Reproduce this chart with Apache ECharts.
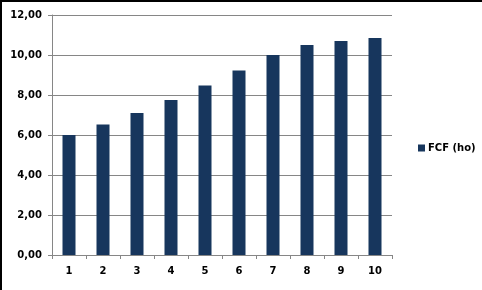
<!DOCTYPE html>
<html>
<head>
<meta charset="utf-8">
<script src="https://cdn.jsdelivr.net/npm/echarts@6/dist/echarts.min.js"></script>
<style>
html,body{margin:0;padding:0;background:#fff;}
#c{width:482px;height:290px;}
</style>
</head>
<body>
<div id="c"></div>
<script>
var categories = ['1','2','3','4','5','6','7','8','9','10'];
var seriesName = 'FCF (ho)';
var fcfValues = [6.0, 6.52, 7.1, 7.75, 8.47, 9.22, 10.0, 10.5, 10.7, 10.85];

var chart = echarts.init(document.getElementById('c'), null, {renderer:'canvas'});
var font = 'DejaVu Sans';
chart.setOption({
  animation: false,
  backgroundColor: '#fff',
  graphic: [
    {type:'rect', shape:{x:0,y:0,width:2,height:290}, style:{fill:'#000'}, silent:true},
    {type:'rect', shape:{x:0,y:0,width:482,height:2}, style:{fill:'#000'}, silent:true}
  ],
  grid: {left: 52, right: 90, top: 15, bottom: 35, containLabel: false},
  legend: {
    left: 413, top: 138, orient: 'vertical',
    itemWidth: 7, itemHeight: 7, itemGap: 4, icon: 'rect',
    textStyle: {fontFamily: font, fontWeight: 'bold', fontSize: 10, color: '#000', padding:[0,0,0,-2]},
    data: [seriesName]
  },
  xAxis: {
    type: 'category', data: categories, boundaryGap: true,
    axisLine: {show: true, lineStyle: {color: '#868686', width: 1}},
    axisTick: {show: true, alignWithLabel: false, length: 4, lineStyle: {color: '#868686'}},
    axisLabel: {fontFamily: font, fontWeight: 'bold', fontSize: 10, color: '#000', margin: 11}
  },
  yAxis: {
    type: 'value', min: 0, max: 12, interval: 2,
    axisLine: {show: true, lineStyle: {color: '#868686', width: 1}},
    axisTick: {show: true, length: 4, lineStyle: {color: '#868686'}},
    splitLine: {show: true, lineStyle: {color: '#868686', width: 1}},
    axisLabel: {
      fontFamily: font, fontWeight: 'bold', fontSize: 10, color: '#000', margin: 10,
      formatter: function(v){ return v.toFixed(2).replace('.', ','); }
    }
  },
  series: [{
    name: seriesName, type: 'bar', data: fcfValues,
    barWidth: 13,
    itemStyle: {color: '#17365D'}
  }]
});
</script>
</body>
</html>
